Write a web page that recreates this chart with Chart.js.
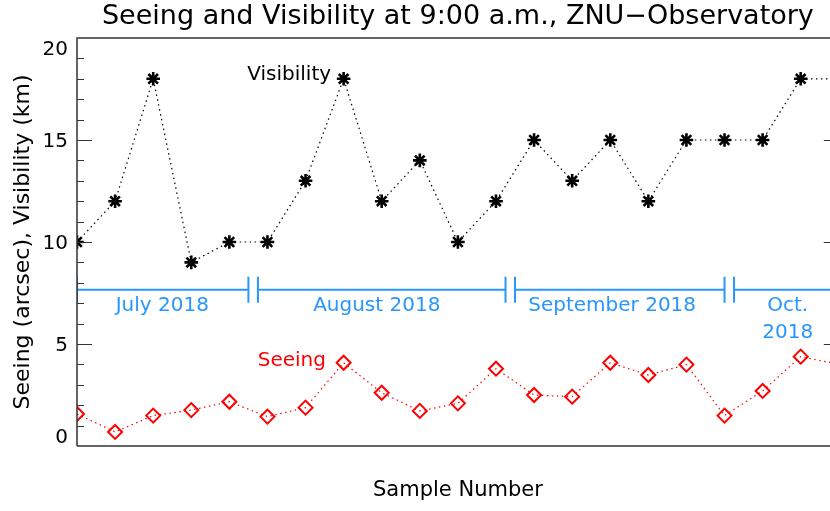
<!DOCTYPE html>
<html>
<head>
<meta charset="utf-8">
<title>Seeing and Visibility at 9:00 a.m., ZNU-Observatory</title>
<script src="https://cdn.jsdelivr.net/npm/chart.js@4/dist/chart.umd.min.js"></script>
<style>
  html, body { margin: 0; padding: 0; background: #ffffff; overflow: hidden; }
  canvas { display: block; }
</style>
</head>
<body>
<!-- the right side of the frame runs just past the window edge -->
<canvas id="chart" width="840" height="511"></canvas>
<script>
// Daily 9:00 a.m. readings, one per sample
const samples      = [0, 1, 2, 3, 4, 5, 6, 7, 8, 9, 10, 11, 12, 13, 14, 15, 16, 17, 18, 19, 20];
const visibilityKm = [10, 12, 18, 9, 10, 10, 13, 18, 12, 14, 10, 12, 15, 13, 15, 12, 15, 15, 15, 18, 18];
const seeingArcsec = [1.57, 0.69, 1.49, 1.76, 2.17, 1.44, 1.88, 4.08, 2.61, 1.72, 2.09,
                      3.79, 2.50, 2.42, 4.08, 3.48, 3.99, 1.49, 2.70, 4.38, 4.00];

// Value-axis ticks
const yTicks = [0, 5, 10, 15, 20];

// Calendar strip: month names and the sample ranges they cover
const monthNames = ['July 2018', 'August 2018', 'September 2018', ['Oct.', '2018']];
const monthStart = [0, 4.75, 11.5, 17.25];
const monthEnd   = [4.5, 11.25, 17, 20];

const BLUE = 'rgb(40,150,255)';
const RED = '#ff0000';
const FONT = '"DejaVu Sans", "Liberation Sans", sans-serif';

// Layout of the calendar strip and text labels, in axis units
const strip = { level: 7.66, barHalf: 0.64, labelY: 6.88, lineStep: 1.32, labelX: [2.24, 7.87, 14.05, 18.66] };
const seriesLabels = [
  { text: 'Visibility', x: 5.57, y: 18.22, color: '#000000' },
  { text: 'Seeing',     x: 5.64, y: 4.2,   color: RED }
];

const visPoints = samples.map((s, i) => ({ x: s, y: visibilityKm[i] }));
const seePoints = samples.map((s, i) => ({ x: s, y: seeingArcsec[i] }));

// Horizontal strip segments, broken between months
const stripLine = [];
monthStart.forEach((s, i) => {
  stripLine.push({ x: s, y: strip.level }, { x: monthEnd[i], y: strip.level }, { x: monthEnd[i], y: null });
});
// Short vertical bars marking each month boundary
const stripBars = [];
monthStart.concat(monthEnd).forEach(b => {
  stripBars.push({ x: b, y: strip.level - strip.barHalf }, { x: b, y: strip.level + strip.barHalf }, { x: b, y: null });
});

// Frame with inward major/minor ticks on both vertical sides
const framePlugin = {
  id: 'frame',
  afterDatasetsDraw(chart) {
    const { ctx, chartArea: a, scales: { y } } = chart;
    ctx.save();
    ctx.strokeStyle = '#333333';
    ctx.lineWidth = 1.5;
    ctx.beginPath();
    ctx.moveTo(a.left, a.bottom);
    ctx.lineTo(a.left, a.top);
    ctx.lineTo(a.right, a.top);
    ctx.lineTo(a.right, a.bottom);
    ctx.lineTo(a.left, a.bottom);
    ctx.stroke();
    ctx.lineWidth = 1.2;
    ctx.beginPath();
    for (let v = y.min + 1; v < y.max; v++) {
      const len = v % 5 === 0 ? 15 : 7;
      const py = Math.round(y.getPixelForValue(v)) + 0.5;
      ctx.moveTo(a.left, py);  ctx.lineTo(a.left + len, py);
      ctx.moveTo(a.right, py); ctx.lineTo(a.right - len, py);
    }
    ctx.stroke();
    ctx.restore();
  }
};

// Series names and month names written inside the plot
const labelPlugin = {
  id: 'plotLabels',
  afterDatasetsDraw(chart) {
    const { ctx, scales: { x, y } } = chart;
    ctx.save();
    ctx.font = '20px ' + FONT;
    ctx.textAlign = 'center';
    ctx.textBaseline = 'middle';
    seriesLabels.forEach(l => {
      ctx.fillStyle = l.color;
      ctx.fillText(l.text, x.getPixelForValue(l.x), y.getPixelForValue(l.y));
    });
    ctx.fillStyle = BLUE;
    monthNames.forEach((name, i) => {
      const lines = Array.isArray(name) ? name : [name];
      lines.forEach((line, k) => {
        ctx.fillText(line, x.getPixelForValue(strip.labelX[i]),
                     y.getPixelForValue(strip.labelY - k * strip.lineStep));
      });
    });
    ctx.restore();
  }
};

new Chart(document.getElementById('chart'), {
  type: 'scatter',
  data: {
    datasets: [
      {
        label: 'Visibility',
        data: visPoints,
        showLine: true,
        borderColor: '#000000',
        borderWidth: 1.2,
        borderDash: [1.5, 3.5],
        pointStyle: 'star',
        pointRadius: 6.8,
        pointBorderWidth: 2.6,
        pointBorderColor: '#000000',
        pointBackgroundColor: 'rgba(0,0,0,0)'
      },
      {
        label: 'Seeing',
        data: seePoints,
        showLine: true,
        borderColor: RED,
        borderWidth: 1.2,
        borderDash: [1.5, 3.5],
        pointStyle: 'rectRot',
        pointRadius: 7,
        pointBorderWidth: 2,
        pointBorderColor: RED,
        pointBackgroundColor: 'rgba(0,0,0,0)'
      },
      {
        label: 'Months',
        data: stripLine,
        showLine: true,
        spanGaps: false,
        borderColor: BLUE,
        borderWidth: 2,
        pointRadius: 0
      },
      {
        label: 'Month bounds',
        data: stripBars,
        showLine: true,
        spanGaps: false,
        borderColor: BLUE,
        borderWidth: 2,
        pointRadius: 0
      }
    ]
  },
  options: {
    responsive: false,
    animation: false,
    devicePixelRatio: 1,
    layout: { autoPadding: false, padding: { top: 0, left: 0, right: 1.2, bottom: 0 } },
    plugins: {
      legend: { display: false },
      tooltip: { enabled: false },
      title: {
        display: true,
        fullSize: false,
        text: 'Seeing and Visibility at 9:00 a.m., ZNU\u2212Observatory',
        color: '#000000',
        font: { family: FONT, size: 27, weight: 'normal', lineHeight: 1.2 },
        padding: { top: 1, bottom: 4.6 }
      }
    },
    scales: {
      x: {
        type: 'linear',
        min: samples[0],
        max: samples[samples.length - 1],
        grid: { display: false, drawTicks: false },
        border: { display: false },
        ticks: { display: false },
        title: {
          display: true,
          text: 'Sample Number',
          color: '#000000',
          font: { family: FONT, size: 21, lineHeight: 1.2 },
          padding: { top: 0, bottom: 7.4 }
        },
        afterFit(scale) { scale.height = 65; }
      },
      y: {
        min: yTicks[0],
        max: yTicks[yTicks.length - 1],
        afterBuildTicks(scale) { scale.ticks = yTicks.map(v => ({ value: v })); },
        grid: { display: false, drawTicks: false },
        border: { display: false },
        ticks: {
          color: '#000000',
          padding: 9,
          labelOffset: 2,
          font: { family: FONT, size: 20, lineHeight: 1 },
          // keep the end labels inside the frame
          callback(v) {
            if (v === yTicks[yTicks.length - 1]) return ['', String(v)];
            if (v === yTicks[0]) return [String(v), ''];
            return String(v);
          }
        },
        title: {
          display: true,
          text: 'Seeing (arcsec), Visibility (km)',
          color: '#000000',
          font: { family: FONT, size: 22, lineHeight: 1.2 },
          padding: { top: 10, bottom: 0 }
        },
        afterFit(scale) { scale.width = 77; }
      }
    }
  },
  plugins: [framePlugin, labelPlugin]
});
</script>
</body>
</html>
